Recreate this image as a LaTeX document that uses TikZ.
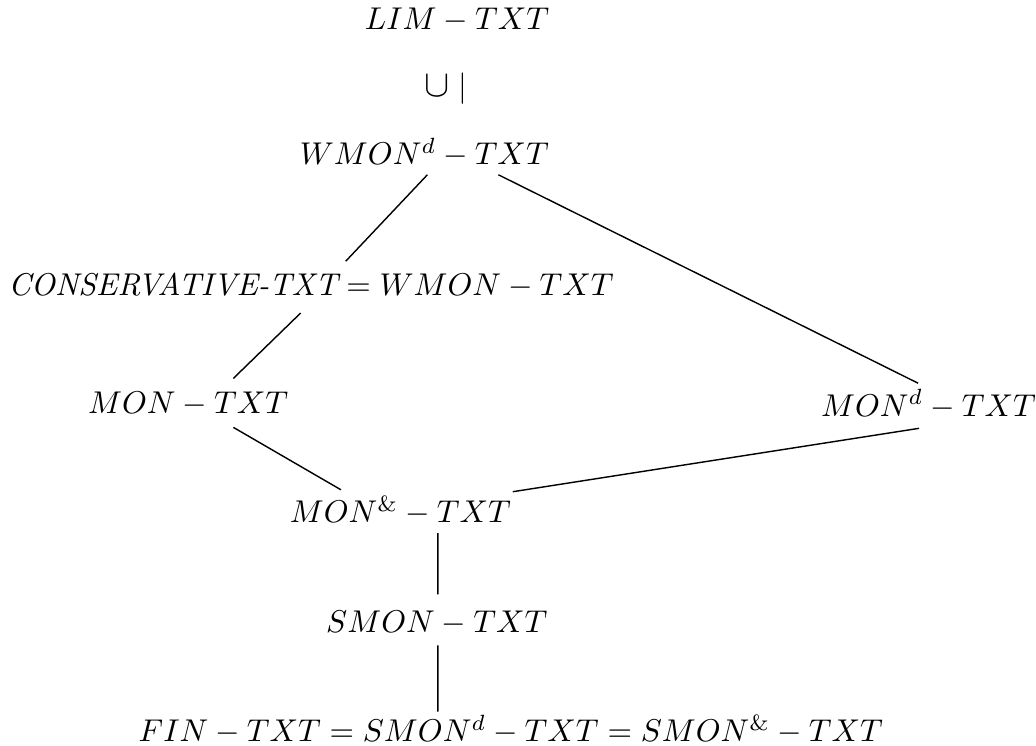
\documentclass[tikz,border=0pt]{standalone}
\usepackage{amsmath,amsfonts,amssymb}
\usepackage{xcolor}
\usepackage{tikz}
\usetikzlibrary{calc}

\begin{document}
\begin{tikzpicture}[scale=1.072, every node/.style={inner sep=2pt}, conn/.style={draw=black, line width=0.45pt}]
				\useasboundingbox (0,0) rectangle (10.79,-7.76);
				\node (lim) at (4.76,-0.21) {$LIM - TXT$};
				\node (incl) at (4.64,-0.92) {{\large$\cup$}$\;|$};
				\node (wmond) at (4.42,-1.59) {$WMON^d - TXT$};
				\node (cons) at (3.24,-2.97) {$\textit{CONSERVATIVE-TXT} = WMON - TXT$};
				\node (mon) at (1.96,-4.21) {$MON - TXT$};
				\node (mond) at (9.67,-4.21) {$MON^d - TXT$};
				\node (monamp) at (4.17,-5.32) {$MON^{\&} - TXT$};
				\node (smon) at (4.55,-6.49) {$SMON - TXT$};
				\node (fin) at (5.32,-7.60) {$FIN - TXT = SMON^d - TXT = SMON^{\&} - TXT$};
				\draw[conn] ($(wmond)+(0.03,-0.23)$) -- ($(cons)+(0.36,0.25)$);
				\draw[conn] ($(cons)+(-0.11,-0.29)$) -- ($(mon)+(0.47,0.27)$);
				\draw[conn] ($(wmond)+(0.77,-0.23)$) -- ($(mond)+(-0.11,0.22)$);
				\draw[conn] ($(mon)+(0.47,-0.24)$) -- ($(monamp)+(-0.62,0.22)$);
				\draw[conn] ($(mond)+(-0.10,-0.25)$) -- ($(monamp)+(1.17,0.20)$);
				\draw[conn] ($(monamp)+(0.39,-0.23)$) -- ($(smon)+(0.01,0.30)$);
				\draw[conn] ($(smon)+(0.01,-0.23)$) -- ($(fin)+(-0.76,0.19)$);
			\end{tikzpicture}
\end{document}
